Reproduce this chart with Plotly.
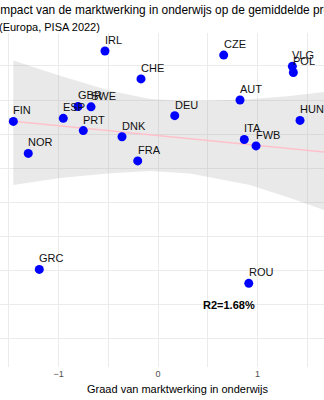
import plotly.graph_objects as go

countries = ["IRL", "CZE", "VLG", "POL", "CHE", "AUT", "GBR", "SWE", "ESP", "FIN",
             "DEU", "HUN", "PRT", "DNK", "NOR", "FRA", "ITA", "FWB", "GRC", "ROU"]
market = [-0.533, 0.660, 1.350, 1.360, -0.171, 0.824, -0.804, -0.673, -0.952, -1.454,
          0.168, 1.427, -0.751, -0.362, -1.304, -0.204, 0.867, 0.985, -1.193, 0.912]
score = [504.4, 503.2, 499.9, 498.1, 496.2, 490.0, 488.1, 488.0, 484.6, 483.7,
         485.4, 484.0, 481.0, 479.2, 474.3, 472.1, 478.4, 476.5, 440.2, 436.1]

fit_x = [-1.454, 1.70]
fit_y = [483.74, 474.6]

band_x = [-1.454, -0.985, -0.482, -0.080, 0.322, 0.925, 1.327, 1.70]
band_upper = [501.6, 497.1, 492.7, 490.3, 489.6, 490.2, 491.2, 492.5]
band_lower = [465.0, 467.1, 468.5, 469.1, 468.4, 465.0, 461.2, 457.3]

r2_label = "R2=1.68%"
title_text = "Impact van de marktwerking in onderwijs op de gemiddelde prestaties"
subtitle_text = "(Europa, PISA 2022)"
x_title = "Graad van marktwerking in onderwijs"

FONT = "Liberation Sans, Arial, Helvetica, sans-serif"

fig = go.Figure()

fig.add_trace(go.Scatter(
    x=band_x + band_x[::-1], y=band_upper + band_lower[::-1],
    fill="toself", fillcolor="rgba(153,153,153,0.22)",
    line=dict(width=0), mode="lines", hoverinfo="skip", showlegend=False))

fig.add_trace(go.Scatter(
    x=fit_x, y=fit_y, mode="lines",
    line=dict(color="#FFC0CB", width=1.6), showlegend=False))

fig.add_trace(go.Scatter(
    x=market, y=score, mode="markers",
    marker=dict(color="#0000FF", size=9, line=dict(width=0)), showlegend=False))

annotations = []
for c, xv, yv in zip(countries, market, score):
    annotations.append(dict(
        x=xv, y=yv, text=c, showarrow=False, xanchor="left", yanchor="middle",
        xshift=-2, yshift=11, font=dict(family=FONT, size=11, color="#111111")))

annotations.append(dict(
    x=0.714, y=429.7, text="<b>" + r2_label + "</b>", showarrow=False,
    xanchor="center", yanchor="middle",
    font=dict(family=FONT, size=11, color="#000000")))

annotations.append(dict(
    x=0, y=1, xref="paper", yref="paper", yanchor="top", xanchor="left",
    xshift=-5, yshift=32, text=title_text, showarrow=False,
    font=dict(family=FONT, size=11.9, color="#000000")))
annotations.append(dict(
    x=0, y=1, xref="paper", yref="paper", yanchor="top", xanchor="left",
    xshift=-3, yshift=14, text=subtitle_text, showarrow=False,
    font=dict(family=FONT, size=11, color="#000000")))
annotations.append(dict(
    x=177.5 / 324, y=0, xref="paper", yref="paper", yanchor="middle",
    xanchor="center", yshift=-22, text=x_title, showarrow=False,
    font=dict(family=FONT, size=11, color="#000000")))

fig.update_layout(
    width=324, height=400,
    margin=dict(l=0, r=0, t=33, b=33),
    paper_bgcolor="white", plot_bgcolor="white",
    annotations=annotations,
    xaxis=dict(range=[-1.588, 1.668], tickmode="array", tickvals=[-1, 0, 1],
               ticktext=["\u22121", "0", "1"],
               showgrid=True, gridcolor="#EBEBEB", gridwidth=1,
               minor=dict(tickmode="array", tickvals=[-1.5, -0.5, 0.5, 1.5],
                          showgrid=True, gridcolor="#EBEBEB", gridwidth=1),
               zeroline=False, showline=False, ticks="",
               tickfont=dict(family=FONT, size=9, color="#4d4d4d")),
    yaxis=dict(range=[411.5, 509.7], dtick=10, tick0=500,
               showgrid=True, gridcolor="#EBEBEB", gridwidth=1,
               zeroline=False, showline=False, ticks="", showticklabels=False),
    font=dict(family=FONT),
)

fig.write_html("out.html")
